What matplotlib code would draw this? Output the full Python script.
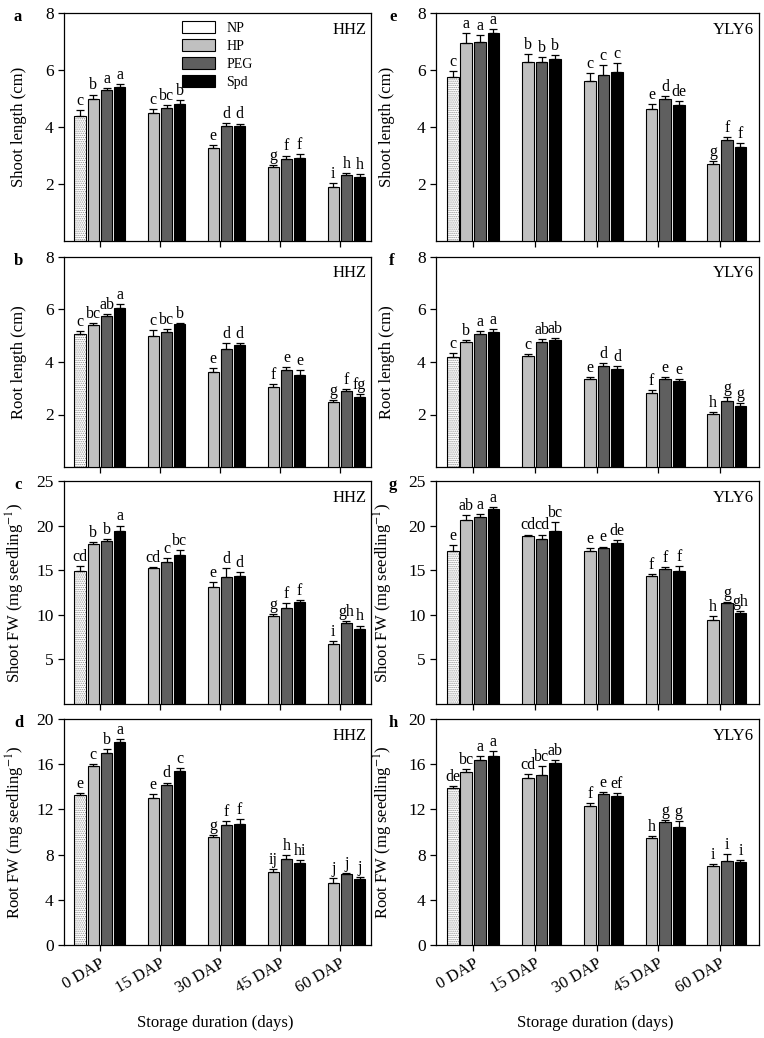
import numpy as np
import matplotlib
matplotlib.use("Agg")
import matplotlib.pyplot as plt

plt.rcParams["font.family"] = ["Liberation Serif", "DejaVu Serif"]
plt.rcParams["mathtext.fontset"] = "stix"
plt.rcParams["hatch.linewidth"] = 0.6

nan = np.nan
dap = ["0 DAP", "15 DAP", "30 DAP", "45 DAP", "60 DAP"]
treatments = ["NP", "HP", "PEG", "Spd"]
colors = ["white", "#c0c0c0", "#5f5f5f", "black"]

# rows: NP, HP, PEG, Spd ; columns: 0..60 DAP
# a: shoot length HHZ
a_mean = [[4.38, nan, nan, nan, nan],
          [4.97, 4.48, 3.28, 2.58, 1.90],
          [5.30, 4.65, 4.05, 2.88, 2.30],
          [5.42, 4.80, 4.05, 2.90, 2.25]]
a_err = [[0.21, 0, 0, 0, 0],
         [0.17, 0.15, 0.10, 0.08, 0.12],
         [0.08, 0.12, 0.08, 0.12, 0.07],
         [0.10, 0.13, 0.07, 0.14, 0.10]]
a_let = [["c", "", "", "", ""],
         ["b", "c", "e", "g", "i"],
         ["a", "bc", "d", "f", "h"],
         ["a", "b", "d", "f", "h"]]

# e: shoot length YLY6
e_mean = [[5.74, nan, nan, nan, nan],
          [6.93, 6.28, 5.62, 4.63, 2.70],
          [6.99, 6.28, 5.83, 5.00, 3.53],
          [7.30, 6.38, 5.92, 4.77, 3.30]]
e_err = [[0.22, 0, 0, 0, 0],
         [0.38, 0.28, 0.26, 0.17, 0.09],
         [0.25, 0.18, 0.35, 0.10, 0.13],
         [0.15, 0.14, 0.31, 0.14, 0.15]]
e_let = [["c", "", "", "", ""],
         ["a", "b", "c", "e", "g"],
         ["a", "b", "c", "d", "f"],
         ["a", "b", "c", "de", "f"]]

# b: root length HHZ
b_mean = [[5.05, nan, nan, nan, nan],
          [5.42, 4.98, 3.62, 3.06, 2.47],
          [5.74, 5.15, 4.48, 3.68, 2.90],
          [6.07, 5.43, 4.63, 3.50, 2.67]]
b_err = [[0.14, 0, 0, 0, 0],
         [0.08, 0.22, 0.15, 0.10, 0.09],
         [0.09, 0.10, 0.25, 0.12, 0.06],
         [0.15, 0.06, 0.09, 0.20, 0.12]]
b_let = [["c", "", "", "", ""],
         ["bc", "c", "e", "f", "g"],
         ["ab", "bc", "d", "e", "f"],
         ["a", "b", "d", "e", "fg"]]

# f: root length YLY6
f_mean = [[4.20, nan, nan, nan, nan],
          [4.76, 4.22, 3.37, 2.82, 2.03],
          [5.05, 4.77, 3.84, 3.34, 2.52],
          [5.13, 4.82, 3.72, 3.27, 2.32]]
f_err = [[0.15, 0, 0, 0, 0],
         [0.09, 0.07, 0.04, 0.11, 0.08],
         [0.12, 0.09, 0.13, 0.08, 0.14],
         [0.13, 0.08, 0.13, 0.09, 0.13]]
f_let = [["c", "", "", "", ""],
         ["b", "c", "e", "f", "h"],
         ["a", "ab", "d", "e", "g"],
         ["a", "ab", "d", "e", "g"]]

# c: shoot FW HHZ
c_mean = [[14.9, nan, nan, nan, nan],
          [17.95, 15.2, 13.1, 9.85, 6.75],
          [18.3, 15.95, 14.25, 10.8, 9.1],
          [19.45, 16.7, 14.4, 11.4, 8.45]]
c_err = [[0.6, 0, 0, 0, 0],
         [0.2, 0.12, 0.55, 0.22, 0.3],
         [0.2, 0.45, 0.95, 0.55, 0.22],
         [0.55, 0.6, 0.35, 0.25, 0.35]]
c_let = [["cd", "", "", "", ""],
         ["b", "cd", "e", "g", "i"],
         ["b", "c", "d", "f", "gh"],
         ["a", "bc", "d", "f", "h"]]

# g: shoot FW YLY6
g_mean = [[17.2, nan, nan, nan, nan],
          [20.6, 18.85, 17.15, 14.35, 9.45],
          [20.95, 18.55, 17.45, 15.1, 11.3],
          [21.85, 19.4, 18.05, 14.95, 10.2]]
g_err = [[0.6, 0, 0, 0, 0],
         [0.6, 0.15, 0.38, 0.25, 0.4],
         [0.3, 0.45, 0.2, 0.3, 0.12],
         [0.25, 0.95, 0.35, 0.55, 0.2]]
g_let = [["e", "", "", "", ""],
         ["ab", "cd", "e", "f", "h"],
         ["a", "cd", "e", "f", "g"],
         ["a", "bc", "de", "f", "gh"]]

# d: root FW HHZ
d_mean = [[13.27, nan, nan, nan, nan],
          [15.8, 13.05, 9.6, 6.42, 5.52],
          [16.95, 14.2, 10.62, 7.65, 6.3],
          [17.95, 15.42, 10.72, 7.3, 5.8]]
d_err = [[0.2, 0, 0, 0, 0],
         [0.2, 0.32, 0.1, 0.28, 0.43],
         [0.42, 0.18, 0.33, 0.3, 0.1],
         [0.3, 0.22, 0.42, 0.22, 0.18]]
d_let = [["e", "", "", "", ""],
         ["c", "e", "g", "ij", "j"],
         ["b", "d", "f", "h", "j"],
         ["a", "c", "f", "hi", "j"]]

# h: root FW YLY6
h_mean = [[13.87, nan, nan, nan, nan],
          [15.35, 14.76, 12.32, 9.43, 6.98],
          [16.37, 15.05, 13.35, 10.85, 7.45],
          [16.73, 16.08, 13.22, 10.47, 7.35]]
h_err = [[0.2, 0, 0, 0, 0],
         [0.2, 0.36, 0.22, 0.22, 0.22],
         [0.35, 0.8, 0.22, 0.2, 0.58],
         [0.47, 0.3, 0.2, 0.5, 0.15]]
h_let = [["de", "", "", "", ""],
         ["bc", "cd", "f", "h", "i"],
         ["a", "bc", "e", "g", "i"],
         ["a", "ab", "ef", "g", "i"]]

fig = plt.figure(figsize=(7.64, 10.38), dpi=100)
W, H = 764, 1038


def px_axes(x0, x1, y0, y1):
    return fig.add_axes([x0 / W, 1 - y1 / H, (x1 - x0) / W, (y1 - y0) / H])


rows = [(13, 241), (257, 467), (481, 704), (719, 945)]
ylabels = ["Shoot length (cm)", "Root length (cm)",
           r"Shoot FW (mg seedling$^{-1}$)", r"Root FW (mg seedling$^{-1}$)"]
ylims = [(0, 8), (0, 8), (0, 25), (0, 20)]
yticks = [[2, 4, 6, 8], [2, 4, 6, 8], [5, 10, 15, 20, 25], [0, 4, 8, 12, 16, 20]]
left_data = [(a_mean, a_err, a_let), (b_mean, b_err, b_let),
             (c_mean, c_err, c_let), (d_mean, d_err, d_let)]
right_data = [(e_mean, e_err, e_let), (f_mean, f_err, f_let),
              (g_mean, g_err, g_let), (h_mean, h_err, h_let)]
left_tags = ["a", "b", "c", "d"]
right_tags = ["e", "f", "g", "h"]

slot = 0.22
bw = 0.19
x = np.arange(len(dap))


def draw(ax, mean, err, let, row, xlim, cultivar):
    for i, t in enumerate(treatments):
        m = np.array(mean[i], dtype=float)
        e = np.array(err[i], dtype=float)
        xs = x + (i - 1.5) * slot
        ok = ~np.isnan(m)
        if t == "NP":
            ax.bar(xs[ok], m[ok], bw, color="white", edgecolor="#8a8a8a",
                   hatch="........", linewidth=0, zorder=2)
            ax.bar(xs[ok], m[ok], bw, fill=False, edgecolor="black",
                   linewidth=0.8, zorder=3, label=t)
        else:
            ax.bar(xs[ok], m[ok], bw, color=colors[i], edgecolor="black",
                   linewidth=0.8, zorder=3, label=t)
        ax.errorbar(xs[ok], m[ok], yerr=[np.zeros(ok.sum()), e[ok]],
                    fmt="none", ecolor="black", elinewidth=0.9,
                    capsize=3.2, capthick=0.9, zorder=4)
        for xi, mi, ei, li in zip(xs[ok], m[ok], e[ok], np.array(let[i])[ok]):
            ax.annotate(li, (xi, mi + ei), xytext=(0, 0.8),
                        textcoords="offset points", ha="center",
                        va="bottom", fontsize=11.5)
    ax.set_xlim(*xlim)
    ax.set_ylim(*ylims[row])
    ax.set_yticks(yticks[row])
    ax.set_xticks(x)
    ax.tick_params(direction="out", length=4, width=0.9, labelsize=12.5)
    if row == 3:
        ax.set_xticklabels(dap, rotation=30, ha="right",
                           rotation_mode="anchor", fontsize=12)
    else:
        ax.set_xticklabels([])
    ax.set_ylabel(ylabels[row], fontsize=12)
    for s in ax.spines.values():
        s.set_linewidth(0.9)
    ax.text(0.985, 0.96, cultivar, transform=ax.transAxes, ha="right",
            va="top", fontsize=12)


for r, (y0, y1) in enumerate(rows):
    axl = px_axes(64, 371, y0, y1)
    m, e, l = left_data[r]
    draw(axl, m, e, l, r, (-0.6, 4.52), "HHZ")
    axl.yaxis.set_label_coords(-0.12, 0.5)
    fig.text(14 / W, 1 - (y0 + 4) / H, left_tags[r], fontsize=12,
             fontweight="bold", va="center")
    if r == 0:
        axl.legend(loc="upper left", bbox_to_anchor=(0.36, 1.0),
                   frameon=False, fontsize=10, handlelength=2.4,
                   handleheight=1.0, labelspacing=0.3, borderaxespad=0.15)

    axr = px_axes(436, 759, y0, y1)
    m, e, l = right_data[r]
    draw(axr, m, e, l, r, (-0.6, 4.63), "YLY6")
    axr.yaxis.set_label_coords(-0.127, 0.5)
    fig.text(389 / W, 1 - (y0 + 4) / H, right_tags[r], fontsize=12,
             fontweight="bold", va="center")

fig.text(215 / W, 1 - 1023 / H, "Storage duration (days)", ha="center",
         va="center", fontsize=12)
fig.text(595 / W, 1 - 1023 / H, "Storage duration (days)", ha="center",
         va="center", fontsize=12)

fig.savefig("out.png", dpi=100)
